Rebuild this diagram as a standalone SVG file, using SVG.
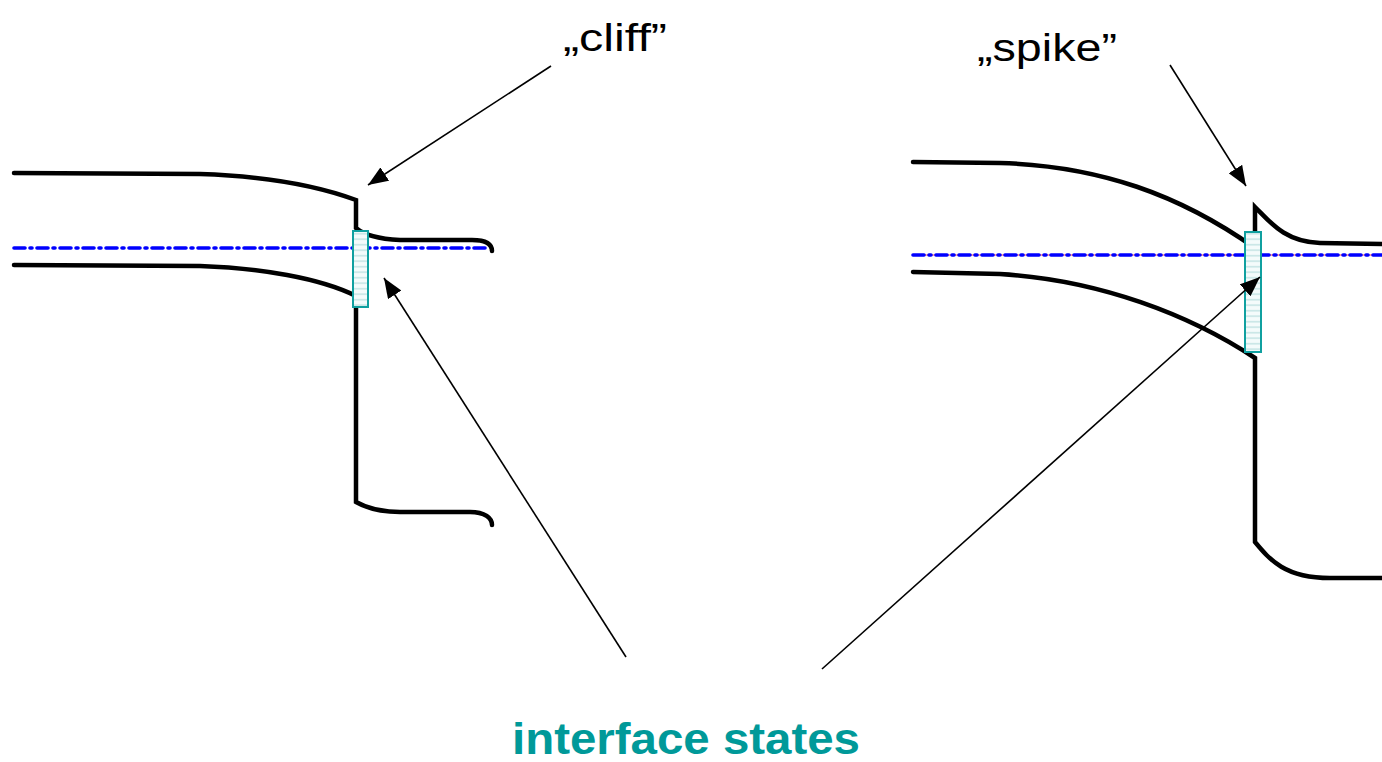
<svg xmlns="http://www.w3.org/2000/svg" width="1382" height="762" viewBox="0 0 1382 762">
<style>
.band{fill:none;stroke:#000;stroke-width:4.5;stroke-linecap:round;stroke-linejoin:miter}
.fermi{fill:none;stroke:#0000ff;stroke-width:3.6;stroke-dasharray:11 5 2 5;stroke-linecap:round}
.red{fill:none;stroke:#ff7f7f;stroke-width:1.5}
.ptr{fill:none;stroke:#000;stroke-width:1.6;marker-end:url(#ah)}
.is{fill:url(#hatch);stroke:#10a0a0;stroke-width:2}
.lbl{font-family:"Liberation Sans",Arial,sans-serif;font-size:38px;fill:#000}
.big{font-family:"Liberation Sans",Arial,sans-serif;font-size:44px;font-weight:bold;fill:#009999}
</style>
<defs>
<marker id="ah" markerUnits="userSpaceOnUse" markerWidth="22" markerHeight="16" refX="20" refY="8" orient="auto">
<path d="M0,0 L20,8 L0,16 Z" fill="#000"/>
</marker>
<pattern id="hatch" patternUnits="userSpaceOnUse" width="20" height="5.5">
<rect width="20" height="5.5" fill="#f4fbfb"/>
<line x1="0" y1="2.7" x2="20" y2="2.7" stroke="#b8dede" stroke-width="1.2"/>
</pattern>
</defs>

<g id="cliff-diagram">
<path class="band" d="M14,173 L200,174 C260,176 310,183 356,200 L356,228 C365,236 380,239 400,240 L472,240 C485,240 492,244 492,251"/>
<path class="fermi" d="M14,248 L490,248"/>
<path class="band" d="M14,265 L200,266 C260,268 320,278 356,296 L356,502 C370,510 385,512 400,512 L470,512 C485,512 492,518 492,525"/>
<rect id="is-left" class="is" x="353" y="231" width="15" height="76"/>
</g>

<g id="spike-diagram">
<path class="band" d="M913,162 L1000,163 C1100,166 1180,195 1255,248 L1255,207 C1270,222 1285,242 1320,243 L1382,244"/>
<path class="red" d="M913,255 L1382,255"/>
<path class="fermi" d="M913,255 L1382,255"/>
<path class="band" d="M913,272 L1000,274 C1100,280 1190,315 1255,358 L1255,542 C1270,560 1285,578 1330,578 L1382,578"/>
<rect id="is-right" class="is" x="1245" y="232" width="16" height="120"/>
</g>

<g id="connectors">
<line class="ptr" x1="551" y1="66" x2="368" y2="185"/>
<line class="ptr" x1="626" y1="657" x2="384" y2="278"/>
<line class="ptr" x1="1170" y1="65" x2="1246" y2="186"/>
<line class="ptr" x1="822" y1="669" x2="1260" y2="277"/>
</g>

<g id="labels">
<text class="lbl" x="563" y="51" textLength="104" lengthAdjust="spacingAndGlyphs">„cliff”</text>
<text class="lbl" x="977" y="61" textLength="140" lengthAdjust="spacingAndGlyphs">„spike”</text>
<text class="big" x="512" y="754" textLength="348" lengthAdjust="spacingAndGlyphs">interface states</text>
</g>
</svg>
